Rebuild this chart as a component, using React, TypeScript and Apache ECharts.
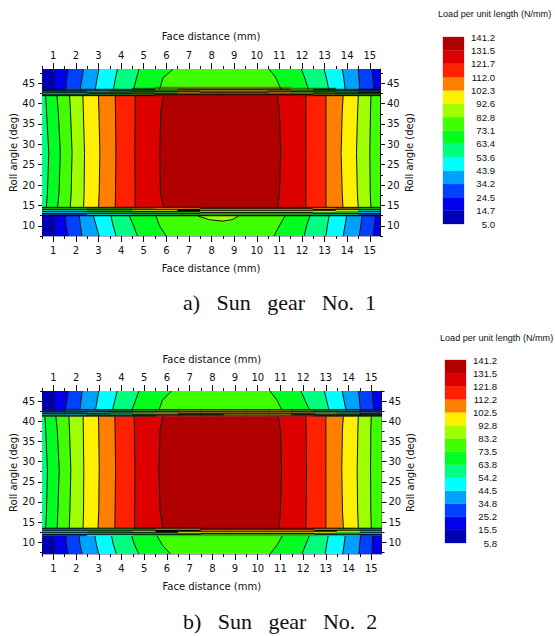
import React, { useEffect, useRef } from "react";
import * as echarts from "echarts";

// colour scale, lowest level first
const levelColors = ["#0000b0", "#0000ee", "#0040ff", "#00a0ff", "#00ffff", "#00ff80", "#00ff20", "#40ff00", "#a0ff00", "#ffef00", "#ff8000", "#ff2000", "#dc0000", "#b00000"];
const legendLabels1 = ["5.0", "14.7", "24.5", "34.2", "43.9", "53.6", "63.4", "73.1", "82.8", "92.6", "102.3", "112.0", "121.7", "131.5", "141.2"];
const legendLabels2 = ["5.8", "15.5", "25.2", "34.8", "44.5", "54.2", "63.8", "73.5", "83.2", "92.8", "102.5", "112.2", "121.8", "131.5", "141.2"];

const xMajor = [1, 2, 3, 4, 5, 6, 7, 8, 9, 10, 11, 12, 13, 14, 15];
const xMinor = [0.5, 1.5, 2.5, 3.5, 4.5, 5.5, 6.5, 7.5, 8.5, 9.5, 10.5, 11.5, 12.5, 13.5, 14.5];
const yMajor = [10, 15, 20, 25, 30, 35, 40, 45];
const yMinor = [7.5, 12.5, 17.5, 22.5, 27.5, 32.5, 37.5, 42.5, 47.5];

const midBands = [5, 6, 7, 8, 9, 10, 11, 12, 13, 12, 11, 10, 9, 8, 7];
const edgeBands = [0, 1, 2, 3, 4, 5, 6, 7, 6, 5, 4, 3, 2, 1];

// ---- Sun gear No. 1 ----
const midRolls1 = [41.9, 38, 28, 18, 14.6];
const midRows1 = [
  [0.66, 1.16, 1.72, 2.31, 3.0, 3.74, 4.62, 5.88, 10.92, 12.17, 13.06, 13.82, 14.49, 15.05],
  [0.7, 1.22, 1.76, 2.33, 3.02, 3.75, 4.62, 5.76, 11.0, 12.17, 13.06, 13.78, 14.46, 15.03],
  [0.8, 1.31, 1.83, 2.38, 3.06, 3.77, 4.61, 5.71, 11.06, 12.17, 13.06, 13.73, 14.41, 15.0],
  [0.74, 1.25, 1.79, 2.36, 3.03, 3.75, 4.62, 5.74, 11.0, 12.17, 13.06, 13.78, 14.45, 15.02],
  [0.69, 1.19, 1.75, 2.34, 3.0, 3.74, 4.62, 5.88, 10.92, 12.17, 13.06, 13.81, 14.49, 15.05],
];
const topRolls1 = [48.5, 46.3, 43.5];
const topRows1 = [
  [1.04, 1.65, 2.34, 3.02, 3.84, 4.8, 6.31, 10.54, 11.97, 12.97, 13.78, 14.49, 15.1],
  [1.03, 1.6, 2.27, 2.94, 3.75, 4.68, 5.85, 10.85, 12.12, 13.08, 13.85, 14.52, 15.14],
  [1.01, 1.56, 2.19, 2.86, 3.66, 4.55, 5.7, 11.07, 12.28, 13.18, 13.91, 14.56, 15.18],
];
const botRolls1 = [12.4, 10, 7.5];
const botRows1 = [
  [1.04, 1.53, 2.15, 2.78, 3.55, 4.37, 5.54, 11.25, 12.35, 13.2, 13.97, 14.66, 15.25],
  [1.04, 1.57, 2.2, 2.9, 3.65, 4.55, 5.7, 11.0, 12.2, 13.12, 13.9, 14.6, 15.2],
  [1.04, 1.65, 2.27, 3.03, 3.78, 4.72, 5.99, 10.76, 12.1, 13.06, 13.82, 14.53, 15.15],
];
const lensX1 = [7.4, 7.9, 8.5, 8.9, 9.2];
const lensRoll1 = [12.4, 11.5, 11.15, 11.5, 12.4];
const topStripRolls1 = [44.1, 41.9];
const topStrips1 = [
  ".....ffffff....",
  "....eefffffee..",
  "nttdkekkkkkekdn",
  "kkkkdefffffedkk",
  "ttcdkkkfffkkkdt",
  "kktdeeokkkoeedk",
  "cckkkdfoooofkkk",
  "ddeefkkkkkkkfee",
  "kkkkkrrrrrrrkkk",
];
const botStripRolls1 = [14.6, 12.4];
const botStrips1 = [
  "kkkkkkkrrrrrkkk",
  "ggeefOOkkkkkOfg",
  "kkkkkkkOOOOOkkk",
  "iiggyykkkkkkkyi",
  "kkkkkkkyyyyyygk",
  "iisggggkkkkkggi",
  "kkkkkkkeeeeekkk",
  "bbiissggggggssb",
  "kkkkkkkkkkkkkkk",
];

// ---- Sun gear No. 2 ----
const midRolls2 = [41.2, 38, 28, 18, 13.56];
const midRows2 = [
  [0.63, 1.11, 1.68, 2.31, 2.99, 3.71, 4.56, 5.82, 10.9, 12.12, 13.0, 13.77, 14.43, 15.0],
  [0.66, 1.17, 1.71, 2.32, 3.0, 3.72, 4.57, 5.7, 11.0, 12.13, 13.0, 13.73, 14.41, 14.98],
  [0.74, 1.26, 1.77, 2.34, 3.02, 3.74, 4.59, 5.65, 11.05, 12.15, 13.0, 13.7, 14.38, 14.97],
  [0.7, 1.2, 1.73, 2.33, 3.0, 3.72, 4.58, 5.7, 11.0, 12.13, 13.0, 13.73, 14.4, 14.98],
  [0.66, 1.17, 1.7, 2.31, 2.97, 3.71, 4.58, 5.82, 10.93, 12.12, 13.0, 13.77, 14.43, 15.0],
];
const topRolls2 = [47.5, 45.2, 42.93];
const topRows2 = [
  [1.03, 1.65, 2.27, 3.0, 3.81, 4.77, 6.2, 10.54, 11.9, 12.93, 13.72, 14.44, 15.04],
  [1.01, 1.6, 2.22, 2.93, 3.71, 4.62, 5.8, 10.85, 12.08, 13.03, 13.8, 14.48, 15.07],
  [0.99, 1.54, 2.17, 2.86, 3.61, 4.47, 5.66, 11.05, 12.27, 13.13, 13.88, 14.52, 15.11],
];
const botRolls2 = [11.57, 9.3, 7.1];
const botRows2 = [
  [1.02, 1.55, 2.13, 2.83, 3.56, 4.45, 5.57, 11.08, 12.27, 13.1, 13.85, 14.53, 15.06],
  [1.03, 1.58, 2.18, 2.9, 3.65, 4.58, 5.8, 10.85, 12.1, 13.03, 13.8, 14.49, 15.05],
  [1.04, 1.65, 2.27, 3.0, 3.78, 4.77, 6.16, 10.54, 11.95, 12.97, 13.74, 14.46, 15.04],
];
const topStripRolls2 = [42.93, 41.2];
const topStrips2 = [
  "kkkkkkkkkkkkkkk",
  "nttdeefffffedtn",
  "kkkkkkkkkkkkkkk",
  "ttcdefffffffedt",
  "kkkdeokkkkkkedk",
  "ccddkkkkfffkkkk",
  "kkkkkrrrrrrrkkk",
];
const botStripRolls2 = [13.56, 11.57];
const botStrips2 = [
  "kkkkkkkrrrrrkkk",
  "ccggeOOkkkkkOgc",
  "kkkkkkkOOOOOkkk",
  "iiggykkkkkkkkyi",
  "kkkkkkyyyyyyygk",
  "iisgggekkkkkegi",
  "kkkkkkkeeeeekkk",
  "bbiissggggggssb",
];

const stripColors: Record<string, string> = {
  k: "#000000", n: "#000070", t: "#005060", c: "#009090", d: "#006030", e: "#308000",
  f: "#807000", o: "#a06000", r: "#700000", y: "#e0e000", O: "#ff8000", i: "#00e0e0",
  g: "#20c000", s: "#00c080", b: "#0040c0",
};

const X_LEFT = 0.5;
const X_RIGHT = 15.45;
const sans = "'DejaVu Sans', sans-serif";
const legendFont = "'Liberation Sans', sans-serif";

type Poly = { pts: number[][]; fill: string };
type Line = { pts: number[][] };

function bandPolys(rolls: number[], rows: number[][], bands: number[]) {
  const polys: Poly[] = [];
  const lines: Line[] = [];
  const n = rows[0].length;
  for (let b = 0; b <= n; b++) {
    const left = rolls.map((r, i) => [b === 0 ? X_LEFT : rows[i][b - 1], r]);
    const right = rolls.map((r, i) => [b === n ? X_RIGHT : rows[i][b], r]);
    polys.push({ pts: [...left, ...right.slice().reverse()], fill: levelColors[bands[b]] });
    if (b < n) lines.push({ pts: right });
  }
  return { polys, lines };
}

function stripPolys(rolls: number[], strips: string[]) {
  const polys: Poly[] = [];
  const step = (rolls[0] - rolls[1]) / strips.length;
  strips.forEach((row, i) => {
    const hi = rolls[0] - i * step;
    const lo = hi - step;
    row.split("").forEach((ch, j) => {
      if (ch === ".") return;
      const a = X_LEFT + j;
      const b = Math.min(X_LEFT + j + 1, X_RIGHT);
      polys.push({ pts: [[a, hi], [b, hi], [b, lo], [a, lo]], fill: stripColors[ch] });
    });
  });
  return polys;
}

function fieldSeries(name: string, axis: number, polys: Poly[], lines: Line[]) {
  const all = [...polys.map((p) => ({ kind: 0, ...p })), ...lines.map((l) => ({ kind: 1, pts: l.pts, fill: "" }))];
  return {
    type: "custom",
    name,
    xAxisIndex: axis,
    yAxisIndex: axis,
    clip: true,
    silent: true,
    data: all.map((_, i) => [i]),
    renderItem: (params: any, api: any) => {
      const it = all[params.dataIndex];
      const points = it.pts.map((p) => api.coord(p));
      if (it.kind === 1) {
        return { type: "polyline", shape: { points }, style: { stroke: "#101010", lineWidth: 1, fill: null } };
      }
      return { type: "polygon", shape: { points }, style: { fill: it.fill, stroke: it.fill, lineWidth: 0.4 } };
    },
  };
}

function plotAxes(grid: number, yMin: number, yMax: number, gaps: { top: number; bottom: number; left: number; right: number }) {
  const common = { gridIndex: grid, type: "value", scale: true, nameMoveOverlap: false };
  const tick = (custom: number[], length: number) => ({ show: true, inside: false, length, customValues: custom, lineStyle: { color: "#111", width: 1 } });
  const label = (margin: number) => ({ show: true, customValues: undefined as any, margin, color: "#111", fontFamily: sans, fontSize: 10, hideOverlap: false, showMinLabel: true, showMaxLabel: true });
  const nameStyle = { color: "#111", fontFamily: sans, fontSize: 10 };
  const xBase = { ...common, min: X_LEFT, max: X_RIGHT, splitLine: { show: false } };
  const yBase = { ...common, min: yMin, max: yMax, splitLine: { show: false } };
  const xs = [
    { ...xBase, position: "bottom", axisLine: { show: true, lineStyle: { color: "#a8a8c8", width: 1 } }, axisTick: tick(xMajor, 6), axisLabel: { ...label(9), customValues: xMajor }, name: "Face distance (mm)", nameLocation: "middle", nameGap: gaps.bottom, nameTextStyle: nameStyle },
    { ...xBase, position: "top", axisLine: { show: false }, axisTick: tick(xMajor, 6), axisLabel: { ...label(9), customValues: xMajor }, name: "Face distance (mm)", nameLocation: "middle", nameGap: gaps.top, nameTextStyle: nameStyle },
    { ...xBase, position: "bottom", axisLine: { show: false }, axisTick: tick(xMinor, 3), axisLabel: { show: false } },
    { ...xBase, position: "top", axisLine: { show: false }, axisTick: tick(xMinor, 3), axisLabel: { show: false } },
  ];
  const ys = [
    { ...yBase, position: "left", axisLine: { show: false }, axisTick: tick(yMajor, 4), axisLabel: { ...label(7), customValues: yMajor }, name: "Roll angle (deg)", nameLocation: "middle", nameGap: gaps.left, nameRotate: 90, nameTextStyle: nameStyle },
    { ...yBase, position: "right", axisLine: { show: true, lineStyle: { color: "#111", width: 1 } }, axisTick: tick(yMajor, 5), axisLabel: { ...label(7), customValues: yMajor }, name: "Roll angle (deg)", nameLocation: "middle", nameGap: gaps.right, nameRotate: 90, nameTextStyle: nameStyle },
    { ...yBase, position: "left", axisLine: { show: false }, axisTick: tick(yMinor, 2), axisLabel: { show: false } },
    { ...yBase, position: "right", axisLine: { show: false }, axisTick: tick(yMinor, 3), axisLabel: { show: false } },
  ];
  return { xs, ys };
}

function legendSeries(axis: number) {
  return {
    type: "custom",
    xAxisIndex: axis,
    yAxisIndex: axis,
    silent: true,
    data: levelColors.map((_, i) => [i]),
    renderItem: (params: any, api: any) => {
      const i = params.dataIndex;
      const a = api.coord([0, i + 1]);
      const b = api.coord([1, i]);
      return { type: "rect", shape: { x: a[0], y: a[1], width: b[0] - a[0], height: b[1] - a[1] }, style: { fill: levelColors[i], stroke: levelColors[i], lineWidth: 0.3 } };
    },
  };
}

function legendAxes(grid: number, labels: string[], margin: number) {
  return {
    x: { gridIndex: grid, type: "value", min: 0, max: 1, show: false },
    y: {
      gridIndex: grid, type: "value", min: 0, max: 14, interval: 1, position: "right",
      axisLine: { show: false }, axisTick: { show: false }, splitLine: { show: false },
      axisLabel: { show: true, margin, align: "right", color: "#111", fontFamily: legendFont, fontSize: 9.6, formatter: (v: number) => labels[Math.round(v)] },
    },
  };
}

export default function App() {
  const ref = useRef<HTMLDivElement>(null);
  useEffect(() => {
    const chart = echarts.init(ref.current!, undefined, { renderer: "svg" });

    const p1 = plotAxes(0, 7.5, 48.5, { top: 28, bottom: 27, left: 24, right: 24 });
    const p2 = plotAxes(1, 7.1, 47.5, { top: 27, bottom: 27, left: 24, right: 24 });
    const l1 = legendAxes(2, legendLabels1, 31);
    const l2 = legendAxes(3, legendLabels2, 31);

    const mid1 = bandPolys(midRolls1, midRows1, midBands);
    const top1 = bandPolys(topRolls1, topRows1, edgeBands);
    const bot1 = bandPolys(botRolls1, botRows1, edgeBands);
    const lens1: Poly = { pts: lensX1.map((x, i) => [x, lensRoll1[i]]), fill: levelColors[8] };
    const lensLine1: Line = { pts: lensX1.map((x, i) => [x, lensRoll1[i]]) };
    const polys1 = [...mid1.polys, ...top1.polys, ...bot1.polys, lens1, ...stripPolys(topStripRolls1, topStrips1), ...stripPolys(botStripRolls1, botStrips1)];
    const lines1 = [...mid1.lines, ...top1.lines, ...bot1.lines, lensLine1];

    const mid2 = bandPolys(midRolls2, midRows2, midBands);
    const top2 = bandPolys(topRolls2, topRows2, edgeBands);
    const bot2 = bandPolys(botRolls2, botRows2, edgeBands);
    const polys2 = [...mid2.polys, ...top2.polys, ...bot2.polys, ...stripPolys(topStripRolls2, topStrips2), ...stripPolys(botStripRolls2, botStrips2)];
    const lines2 = [...mid2.lines, ...top2.lines, ...bot2.lines];

    const legendTitle = (x: number, y: number) => ({
      type: "text", x, y,
      style: { text: "Load per unit length (N/mm)", fontFamily: legendFont, fontSize: 9.1, fill: "#111", textVerticalAlign: "middle" },
    });
    const caption = (text: string, y: number) => ({
      type: "text", x: 183, y,
      style: { text, fontFamily: "'Liberation Serif', serif", fontSize: 22, fill: "#111", textVerticalAlign: "middle" },
    });

    chart.setOption({
      animation: false,
      backgroundColor: "#ffffff",
      grid: [
        { left: 42, top: 69, width: 338, height: 167, outerBoundsMode: "none" },
        { left: 42, top: 391, width: 339.5, height: 163, outerBoundsMode: "none" },
        { left: 443, top: 37, width: 21, height: 187, outerBoundsMode: "none" },
        { left: 445, top: 360, width: 21, height: 183, outerBoundsMode: "none" },
      ],
      xAxis: [...p1.xs, ...p2.xs, l1.x, l2.x],
      yAxis: [...p1.ys, ...p2.ys, l1.y, l2.y],
      series: [
        fieldSeries("Sun gear No. 1", 0, polys1, lines1),
        fieldSeries("Sun gear No. 2", 4, polys2, lines2),
        legendSeries(8),
        legendSeries(9),
      ],
      graphic: [
        legendTitle(438, 14),
        legendTitle(440, 338),
        caption("a)   Sun   gear   No.  1", 302),
        caption("b)   Sun   gear   No.  2", 621),
      ],
    });
    return () => chart.dispose();
  }, []);
  return <div ref={ref} style={{ position: "fixed", left: 0, top: 0, width: 555, height: 636 }} />;
}
